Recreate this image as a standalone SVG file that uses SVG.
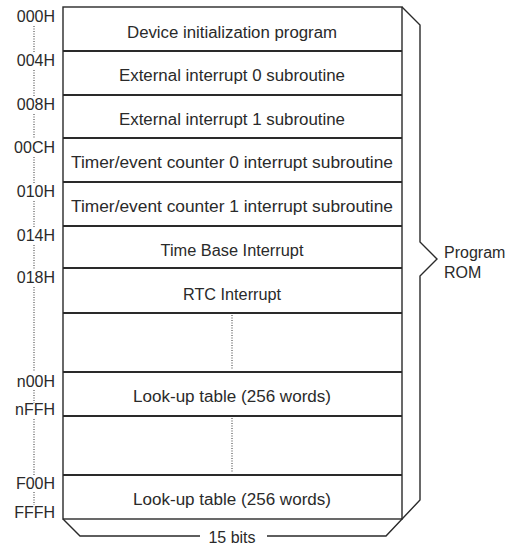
<svg xmlns="http://www.w3.org/2000/svg" width="517" height="548" viewBox="0 0 517 548">
<style>
text{font-family:"Liberation Sans",Arial,sans-serif;font-size:16px;fill:#2a2a2a}
.c{text-anchor:middle}
.a{text-anchor:end}
.ln{stroke:#2a2a2a;stroke-width:1.4;fill:none}
.sep{stroke:#2a2a2a;stroke-width:2;fill:none}
.dot{stroke:#333;stroke-width:1;stroke-dasharray:1 1.5;fill:none}
</style>
<rect width="517" height="548" fill="#fff"/>
<g id="connectors">
<path class="dot" d="M34 26V52M34 70V96M34 114V139M34 157V183M34 201V227M34 245V269M34 287V372M34 390V403M34 419V475M34 492V505"/>
<path class="dot" d="M232 315V369M232 418V472"/>
</g>
<g id="rom-box">
<rect class="ln" x="63" y="7" width="339" height="512"/>
<path class="ln" d="M402 7L420 25V242L437 259L420 276V500L386 536H267M200 536H80L63 519"/>
</g>
<g id="rows">
<path class="sep" d="M63 51H402M63 95H402M63 138H402M63 182H402M63 226H402M63 268H402M63 313H402M63 372H402M63 416H402M63 475H402"/>
</g>
<g id="row1"><text class="c" x="232" y="38" textLength="210" lengthAdjust="spacingAndGlyphs">Device initialization program</text></g>
<g id="row2"><text class="c" x="232" y="81" textLength="226" lengthAdjust="spacingAndGlyphs">External interrupt 0 subroutine</text></g>
<g id="row3"><text class="c" x="232" y="125" textLength="226" lengthAdjust="spacingAndGlyphs">External interrupt 1 subroutine</text></g>
<g id="row4"><text class="c" x="232" y="168" textLength="322" lengthAdjust="spacingAndGlyphs">Timer/event counter 0 interrupt subroutine</text></g>
<g id="row5"><text class="c" x="232" y="212" textLength="322" lengthAdjust="spacingAndGlyphs">Timer/event counter 1 interrupt subroutine</text></g>
<g id="row6"><text class="c" x="232" y="256" textLength="143" lengthAdjust="spacingAndGlyphs">Time Base Interrupt</text></g>
<g id="row7"><text class="c" x="232" y="300" textLength="98" lengthAdjust="spacingAndGlyphs">RTC Interrupt</text></g>
<g id="row9"><text class="c" x="232" y="402" textLength="198" lengthAdjust="spacingAndGlyphs">Look-up table (256 words)</text></g>
<g id="row11"><text class="c" x="232" y="505" textLength="198" lengthAdjust="spacingAndGlyphs">Look-up table (256 words)</text></g>
<g id="addresses">
<text class="a" x="55" y="22">000H</text>
<text class="a" x="55" y="66">004H</text>
<text class="a" x="55" y="110">008H</text>
<text class="a" x="55" y="153">00CH</text>
<text class="a" x="55" y="197">010H</text>
<text class="a" x="55" y="241">014H</text>
<text class="a" x="55" y="283">018H</text>
<text class="a" x="55" y="387">n00H</text>
<text class="a" x="55" y="415">nFFH</text>
<text class="a" x="55" y="489">F00H</text>
<text class="a" x="55" y="518">FFFH</text>
</g>
<g id="labels">
<text x="444" y="258">Program</text>
<text x="444" y="278">ROM</text>
<text class="c" x="232" y="543">15 bits</text>
</g>
</svg>
